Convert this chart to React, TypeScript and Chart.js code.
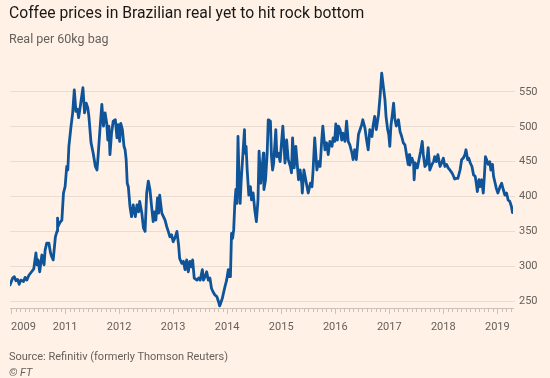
import React, { useEffect, useRef } from "react";
import { Chart, registerables } from "chart.js";

Chart.register(...registerables);

// Decimal-year dates of each observation
const dates = [
  2009.98, 2010.03, 2010.06, 2010.09, 2010.12, 2010.15, 2010.18, 2010.23, 2010.26, 2010.29,
  2010.33, 2010.38, 2010.42, 2010.46, 2010.48, 2010.5, 2010.53, 2010.57, 2010.61, 2010.63,
  2010.66, 2010.7, 2010.73, 2010.75, 2010.78, 2010.82, 2010.85, 2010.86, 2010.87, 2010.9,
  2010.94, 2010.97, 2011.0, 2011.03, 2011.05, 2011.07, 2011.11, 2011.14, 2011.17, 2011.2,
  2011.23, 2011.25, 2011.29, 2011.33, 2011.36, 2011.39, 2011.42, 2011.44, 2011.48, 2011.52,
  2011.56, 2011.59, 2011.61, 2011.64, 2011.68, 2011.71, 2011.74, 2011.77, 2011.79, 2011.81,
  2011.83, 2011.86, 2011.89, 2011.93, 2011.96, 2011.98, 2012.01, 2012.03, 2012.06, 2012.09,
  2012.11, 2012.13, 2012.15, 2012.17, 2012.2, 2012.23, 2012.26, 2012.3, 2012.33, 2012.36,
  2012.38, 2012.42, 2012.45, 2012.48, 2012.51, 2012.54, 2012.57, 2012.6, 2012.63, 2012.65,
  2012.68, 2012.71, 2012.73, 2012.75, 2012.79, 2012.82, 2012.85, 2012.88, 2012.91, 2012.94,
  2012.97, 2013.0, 2013.04, 2013.07, 2013.1, 2013.12, 2013.16, 2013.19, 2013.22, 2013.25,
  2013.28, 2013.31, 2013.34, 2013.36, 2013.39, 2013.44, 2013.47, 2013.5, 2013.54, 2013.56,
  2013.59, 2013.62, 2013.65, 2013.68, 2013.71, 2013.74, 2013.77, 2013.81, 2013.84, 2013.86,
  2013.88, 2013.91, 2013.93, 2013.96, 2013.99, 2014.02, 2014.04, 2014.06, 2014.08, 2014.1,
  2014.12, 2014.14, 2014.16, 2014.18, 2014.2, 2014.22, 2014.24, 2014.26, 2014.28, 2014.3,
  2014.32, 2014.33, 2014.35, 2014.37, 2014.4, 2014.43, 2014.45, 2014.48, 2014.51, 2014.54,
  2014.57, 2014.59, 2014.62, 2014.63, 2014.67, 2014.68, 2014.71, 2014.74, 2014.76, 2014.8,
  2014.82, 2014.84, 2014.86, 2014.9, 2014.92, 2014.95, 2014.98, 2015.0, 2015.03, 2015.07,
  2015.1, 2015.13, 2015.17, 2015.19, 2015.21, 2015.24, 2015.27, 2015.29, 2015.32, 2015.35,
  2015.38, 2015.39, 2015.42, 2015.47, 2015.5, 2015.54, 2015.57, 2015.59, 2015.62, 2015.66,
  2015.69, 2015.72, 2015.75, 2015.77, 2015.81, 2015.84, 2015.87, 2015.9, 2015.94, 2015.96,
  2015.99, 2016.01, 2016.04, 2016.06, 2016.09, 2016.12, 2016.14, 2016.18, 2016.21, 2016.24,
  2016.27, 2016.31, 2016.33, 2016.36, 2016.39, 2016.43, 2016.46, 2016.49, 2016.51, 2016.55,
  2016.58, 2016.61, 2016.64, 2016.68, 2016.7, 2016.73, 2016.76, 2016.8, 2016.83, 2016.86,
  2016.89, 2016.92, 2016.94, 2016.97, 2016.99, 2017.01, 2017.03, 2017.06, 2017.08, 2017.1,
  2017.13, 2017.17, 2017.2, 2017.23, 2017.26, 2017.29, 2017.32, 2017.35, 2017.37, 2017.38,
  2017.42, 2017.45, 2017.46, 2017.48, 2017.52, 2017.55, 2017.58, 2017.61, 2017.63, 2017.66,
  2017.69, 2017.72, 2017.75, 2017.79, 2017.82, 2017.84, 2017.87, 2017.9, 2017.94, 2017.97,
  2018.0, 2018.03, 2018.06, 2018.09, 2018.12, 2018.16, 2018.19, 2018.21, 2018.24, 2018.27,
  2018.31, 2018.34, 2018.37, 2018.4, 2018.42, 2018.45, 2018.47, 2018.5, 2018.53, 2018.56,
  2018.59, 2018.61, 2018.63, 2018.66, 2018.68, 2018.71, 2018.74, 2018.76, 2018.78, 2018.8,
  2018.83, 2018.86, 2018.88, 2018.91, 2018.93, 2018.96, 2018.98, 2019.01, 2019.05, 2019.08,
  2019.11, 2019.14, 2019.17, 2019.2, 2019.23, 2019.26, 2019.28,
];

// Real per 60kg bag
const prices = [
  273, 283, 285, 279, 281, 274, 280, 278, 284, 280,
  287, 292, 296, 319, 302, 309, 292, 316, 302, 323,
  333, 333, 319, 314, 309, 342, 350, 369, 357, 362,
  366, 405, 414, 443, 438, 472, 501, 520, 553, 522,
  525, 513, 534, 556, 520, 534, 527, 515, 477, 462,
  443, 438, 457, 491, 532, 501, 520, 505, 481, 501,
  460, 491, 508, 510, 484, 503, 479, 505, 496, 472,
  467, 453, 419, 414, 386, 371, 388, 371, 388, 378,
  393, 376, 355, 350, 405, 422, 410, 386, 364, 378,
  366, 398, 376, 402, 376, 371, 366, 357, 350, 342,
  345, 335, 342, 350, 331, 311, 304, 307, 295, 309,
  292, 307, 299, 309, 283, 280, 283, 280, 295, 280,
  285, 292, 280, 283, 268, 263, 259, 256, 249, 243,
  247, 254, 261, 271, 280, 295, 285, 285, 347, 340,
  352, 388, 410, 390, 486, 424, 390, 424, 448, 472,
  496, 462, 472, 438, 402, 414, 395, 405, 381, 364,
  395, 465, 419, 429, 462, 410, 424, 462, 510, 508,
  457, 438, 448, 496, 457, 462, 450, 472, 501, 448,
  481, 453, 443, 434, 484, 441, 472, 453, 424, 438,
  419, 405, 438, 417, 405, 419, 414, 438, 484, 438,
  450, 443, 481, 501, 467, 477, 460, 479, 472, 484,
  479, 504, 481, 501, 496, 481, 491, 479, 508, 479,
  474, 462, 453, 467, 453, 489, 496, 503, 510, 498,
  481, 467, 496, 486, 501, 515, 496, 517, 544, 577,
  558, 539, 515, 496, 489, 472, 501, 520, 534, 513,
  501, 510, 493, 486, 477, 474, 460, 446, 460, 445,
  455, 448, 424, 448, 441, 453, 465, 479, 460, 443,
  446, 470, 438, 446, 450, 457, 450, 460, 443, 448,
  455, 443, 446, 441, 438, 434, 429, 425, 426, 426,
  438, 453, 455, 460, 467, 453, 455, 448, 443, 431,
  429, 419, 407, 424, 414, 424, 405, 429, 457, 453,
  446, 450, 438, 446, 429, 419, 412, 405, 414, 419,
  410, 402, 405, 395, 393, 386, 377,
];

const yTicks = [250, 300, 350, 400, 450, 500, 550];
const xTickYears = [2010, 2011, 2012, 2013, 2014, 2015, 2016, 2017, 2018, 2019];
const xTickLabels = ["2009", "2011", "2012", "2013", "2014", "2015", "2016", "2017", "2018", "2019"];

const FONT = "Roboto, 'Open Sans', sans-serif";
const BG = "#fff1e5";
const GRID = "#e9ddd2";
const AXIS = "#ccc1b7";
const MUTED = "#66605c";
const LINE = "#0f5499";

export default function App() {
  const ref = useRef<HTMLCanvasElement>(null);

  useEffect(() => {
    const canvas = ref.current;
    if (!canvas) return;

    const xAxisPlugin = {
      id: "ftXAxis",
      afterDraw(chart: any) {
        const ctx = chart.ctx;
        const xs = chart.scales.x;
        const bottom = chart.chartArea.bottom;
        ctx.save();
        ctx.strokeStyle = AXIS;
        ctx.lineWidth = 1;
        const first = xTickYears[0];
        for (let m = 0; first + m / 12 <= xs.max + 1e-9; m++) {
          const v = first + m / 12;
          const px = Math.round(xs.getPixelForValue(v)) + 0.5;
          const len = m % 12 === 0 ? 6 : 4;
          ctx.beginPath();
          ctx.moveTo(px, bottom);
          ctx.lineTo(px, bottom + len);
          ctx.stroke();
        }
        ctx.fillStyle = MUTED;
        ctx.font = `11px ${FONT}`;
        ctx.textBaseline = "alphabetic";
        xTickYears.forEach((yr, i) => {
          const px = xs.getPixelForValue(yr);
          ctx.textAlign = i === 0 ? "left" : "center";
          ctx.fillText(xTickLabels[i], px, bottom + 22);
        });
        ctx.restore();
      },
    };

    const chart = new Chart(canvas, {
      type: "line",
      data: {
        datasets: [
          {
            data: dates.map((d, i) => ({ x: d, y: prices[i] })),
            borderColor: LINE,
            borderWidth: 2.8,
            pointRadius: 0,
            tension: 0,
            fill: false,
            borderJoinStyle: "round",
            borderCapStyle: "round",
          },
        ],
      },
      options: {
        responsive: false,
        animation: false,
        devicePixelRatio: 1,
        layout: { padding: { left: 10, top: 71, right: 0, bottom: 70 } },
        plugins: {
          legend: { display: false },
          tooltip: { enabled: false },
          title: { display: false },
        },
        scales: {
          x: {
            type: "linear",
            min: 2009.98,
            max: 2019.29,
            grid: { display: false },
            border: { display: true, color: AXIS },
            ticks: { display: false },
            afterFit(s: any) {
              s.height = 0;
            },
          },
          y: {
            position: "right",
            min: 240,
            max: 580,
            afterBuildTicks(s: any) {
              s.ticks = yTicks.map((v) => ({ value: v }));
            },
            grid: { color: GRID, drawTicks: true, tickLength: 2, tickColor: GRID },
            border: { display: false },
            ticks: {
              color: MUTED,
              font: { family: FONT, size: 11 },
              padding: 4,
              callback: (v: any) => String(v),
            },
            afterFit(s: any) {
              s.width = 37;
            },
          },
        },
      },
      plugins: [xAxisPlugin],
    } as any);

    return () => chart.destroy();
  }, []);

  const base: React.CSSProperties = {
    position: "absolute",
    left: 9,
    whiteSpace: "nowrap",
    fontFamily: FONT,
  };

  return (
    <div
      style={{
        position: "absolute",
        left: 0,
        top: 0,
        width: 550,
        height: 378,
        background: BG,
        overflow: "hidden",
      }}
    >
      <canvas
        ref={ref}
        width={550}
        height={378}
        style={{ position: "absolute", left: 0, top: 0, width: 550, height: 378 }}
      />
      <div style={{ ...base, top: 4, fontSize: 15.7, lineHeight: "18px", color: "#1a1817" }}>
        Coffee prices in Brazilian real yet to hit rock bottom
      </div>
      <div style={{ ...base, top: 31, fontSize: 12.5, lineHeight: "15px", color: MUTED }}>
        Real per 60kg bag
      </div>
      <div style={{ ...base, top: 350, fontSize: 11, lineHeight: "13px", color: MUTED }}>
        Source: Refinitiv (formerly Thomson Reuters)
      </div>
      <div style={{ ...base, top: 366, fontSize: 11, lineHeight: "13px", color: MUTED, fontStyle: "italic" }}>
        © FT
      </div>
    </div>
  );
}
